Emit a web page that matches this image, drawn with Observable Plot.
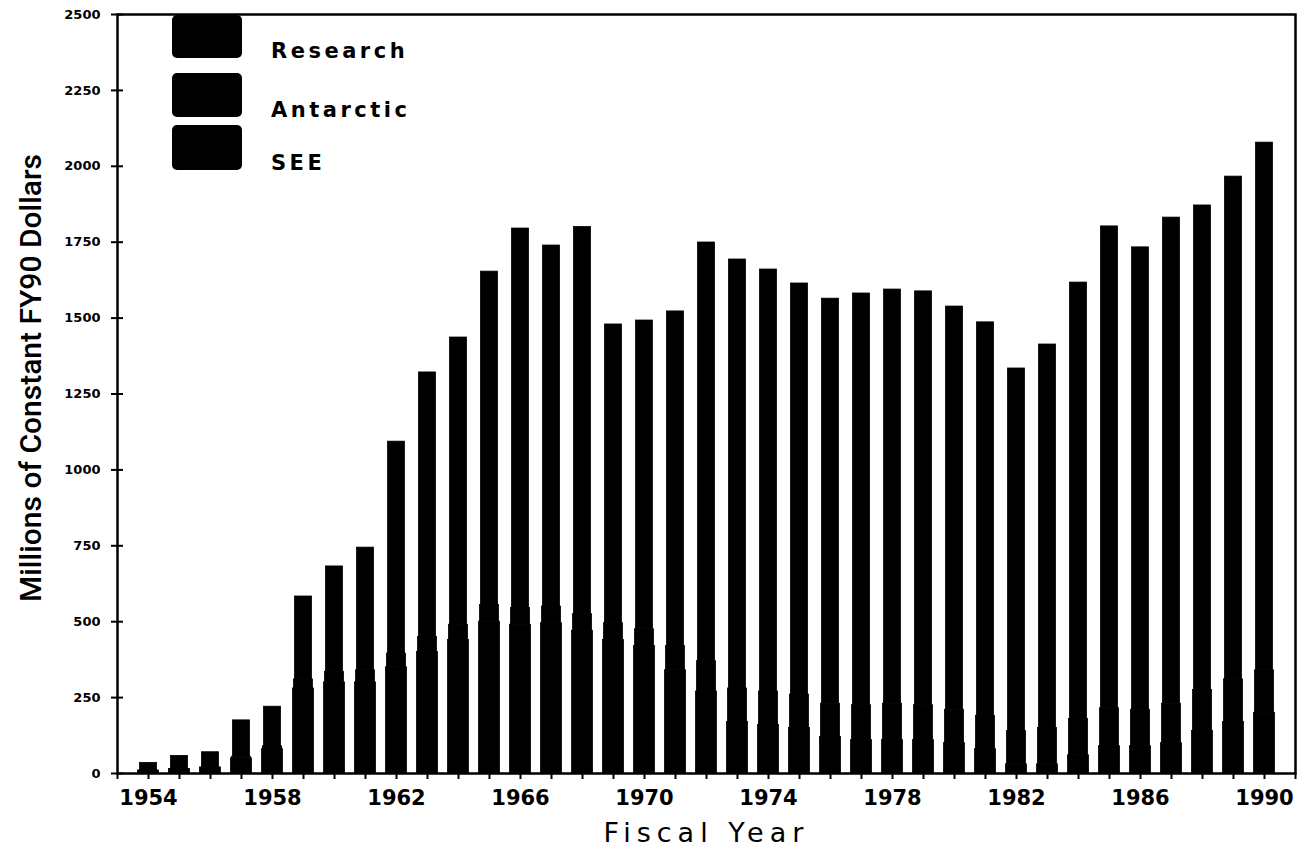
<!DOCTYPE html>
<html><head><meta charset="utf-8">
<script src="https://cdn.jsdelivr.net/npm/d3@7"></script>
<script src="https://cdn.jsdelivr.net/npm/@observablehq/plot@0.6"></script>
<style>
body{margin:0;background:#fff;}
#wrap{position:relative;width:1312px;height:856px;overflow:hidden;}
.lg-box{position:absolute;left:172px;width:70px;background:#000;border-radius:5px;}
.lg-txt{position:absolute;left:271px;font-family:"DejaVu Sans",sans-serif;font-weight:bold;font-size:21px;letter-spacing:3.5px;line-height:21px;color:#000;}
.ylab{position:absolute;left:30px;top:378px;transform:translate(-50%,-50%) rotate(-90deg);white-space:nowrap;font-family:"Roboto","DejaVu Sans",sans-serif;font-weight:500;font-size:30px;color:#000;transform-origin:center;}
</style></head><body><div id="wrap"></div>
<script>
const years = [1954,1955,1956,1957,1958,1959,1960,1961,1962,1963,1964,1965,1966,1967,1968,1969,1970,1971,1972,1973,1974,1975,1976,1977,1978,1979,1980,1981,1982,1983,1984,1985,1986,1987,1988,1989,1990];
const see       = [10,15,20,50,80,280,300,300,350,400,440,500,490,495,470,440,420,340,270,170,160,150,120,110,110,110,100,80,30,30,60,90,90,100,140,170,200];
const antarctic = [0,0,0,5,10,30,35,40,45,50,50,55,55,55,55,55,55,80,100,110,110,110,110,115,120,115,110,110,110,120,120,125,120,130,135,140,140];
const research  = [25,43,50,120,130,273,347,404,698,871,946,1098,1250,1189,1275,984,1017,1102,1379,1413,1390,1354,1334,1356,1364,1363,1328,1296,1194,1263,1437,1587,1523,1601,1596,1656,1738];
const seriesOrder = ["SEE","Antarctic","Research"];
const legendOrder = ["Research","Antarctic","SEE"];
const yTicks = [0,250,500,750,1000,1250,1500,1750,2000,2250,2500];
const xTickYears = [1953,1954,1955,1956,1957,1958,1959,1960,1961,1962,1963,1964,1965,1966,1967,1968,1969,1970,1971,1972,1973,1974,1975,1976,1977,1978,1979,1980,1981,1982,1983,1984,1985,1986,1987,1988,1989,1990,1991];
const xLabelYears = [1954,1958,1962,1966,1970,1974,1978,1982,1986,1990];
const xTitle = "Fiscal Year";
const yTitle = "Millions of Constant FY90 Dollars";

const valuesBySeries = {SEE: see, Antarctic: antarctic, Research: research};
const rows = [];
years.forEach((yr, i) => {
  let base = 0;
  for (const s of seriesOrder) {
    const v = valuesBySeries[s][i];
    rows.push({year: yr, series: s, y1: base, y2: base + v});
    base += v;
  }
});
const insets = {SEE: 5, Antarctic: 6, Research: 7};

const barMarks = seriesOrder.map(s => Plot.rectY(rows.filter(r => r.series === s), {
  x1: d => d.year - 0.5, x2: d => d.year + 0.5, y1: "y1", y2: "y2",
  fill: "black", stroke: "black", strokeWidth: 0.8,
  insetLeft: insets[s], insetRight: insets[s]
}));

const chart = Plot.plot({
  width: 1312, height: 856,
  marginTop: 14, marginLeft: 117, marginRight: 17, marginBottom: 83,
  style: {background: "white", color: "black"},
  x: {domain: [1953, 1991], axis: null},
  y: {domain: [0, 2500], axis: null},
  marks: [
    ...barMarks,
    Plot.axisY({ticks: yTicks, tickSize: 12, dx: 6, tickFormat: () => "", strokeWidth: 2, label: null}),
    Plot.axisY({ticks: yTicks, tickSize: 0, tickPadding: 17, tickFormat: d => String(d), label: null,
      fontSize: 13, fontWeight: "bold", fontFamily: "DejaVu Sans, sans-serif", letterSpacing: "1px"}),
    Plot.axisX({ticks: xTickYears, tickSize: 6, tickFormat: () => "", strokeWidth: 2, label: null}),
    Plot.axisX({ticks: xLabelYears, tickSize: 0, tickPadding: 17, tickFormat: d => String(d),
      label: xTitle, labelAnchor: "center", labelOffset: 68, labelArrow: "none",
      fontSize: 21, fontWeight: "bold", fontFamily: "DejaVu Sans, sans-serif", letterSpacing: "3px"}),
    Plot.frame({stroke: "black", strokeWidth: 2.5})
  ]
});
const wrap = document.getElementById("wrap");
wrap.appendChild(chart);

// x title styling (thinner, larger, letter-spaced)
chart.querySelectorAll("[aria-label='x-axis label'] text, [aria-label='x-axis label']").forEach(el => {
  el.setAttribute("font-weight", "normal");
  el.setAttribute("font-size", "27");
  el.style.fontWeight = "normal";
  el.style.fontSize = "27px";
  el.style.letterSpacing = "6px";
});

// legend overlay
const boxTops = {Research: 15, Antarctic: 73, SEE: 125};
const boxH = {Research: 43, Antarctic: 44, SEE: 45};
legendOrder.forEach(name => {
  const b = document.createElement("div");
  b.className = "lg-box";
  b.style.top = boxTops[name] + "px";
  b.style.height = boxH[name] + "px";
  wrap.appendChild(b);
  const t = document.createElement("div");
  t.className = "lg-txt";
  t.textContent = name;
  t.style.top = (boxTops[name] + boxH[name] - 17) + "px";
  wrap.appendChild(t);
});
const yl = document.createElement("div");
yl.className = "ylab";
yl.textContent = yTitle;
wrap.appendChild(yl);
</script></body></html>
